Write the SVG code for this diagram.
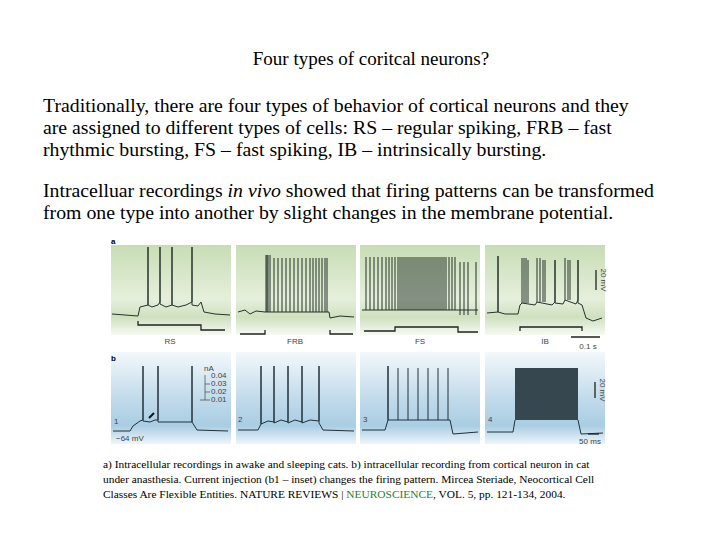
<svg xmlns="http://www.w3.org/2000/svg" width="720" height="540" viewBox="0 0 720 540">
<defs>
<linearGradient id="gA" x1="0" y1="0" x2="0" y2="1"><stop offset="0" stop-color="#c7ddb5"/><stop offset="0.6" stop-color="#e6efdc"/><stop offset="0.8" stop-color="#cfe0bf"/><stop offset="1" stop-color="#f7faf3"/></linearGradient>
<linearGradient id="gB" x1="0" y1="0" x2="0" y2="1"><stop offset="0" stop-color="#f3f8fb"/><stop offset="0.5" stop-color="#c2dbeb"/><stop offset="0.8" stop-color="#a9cde3"/><stop offset="1" stop-color="#eef5fa"/></linearGradient>
<style>
.t{font-family:"Liberation Serif",serif;fill:#000}
.tr{stroke:#25332b;stroke-width:1;fill:none}
.trb{stroke:#22303a;stroke-width:1;fill:none}
.st{stroke:#222;stroke-width:1.3;fill:none}
.sm{font-family:"Liberation Sans",sans-serif;font-size:8px;fill:#444}
</style>
</defs>
<rect width="720" height="540" fill="#fff"/>
<text class="t" x="371" y="65" font-size="19" text-anchor="middle">Four types of coritcal neurons?</text>
<g class="t" font-size="19.8">
<text x="43" y="112">Traditionally, there are four types of behavior of cortical neurons and they</text>
<text x="43" y="134">are assigned to different types of cells: RS – regular spiking, FRB – fast</text>
<text x="43" y="156">rhythmic bursting, FS – fast spiking, IB – intrinsically bursting.</text>
<text x="43" y="197">Intracelluar recordings <tspan font-style="italic">in vivo</tspan> showed that firing patterns can be transformed</text>
<text x="43" y="219">from one type into another by slight changes in the membrane potential.</text>
</g>
<g id="figure">
<rect x="111" y="245" width="120" height="90" fill="url(#gA)"/>
<rect x="236" y="245" width="120" height="90" fill="url(#gA)"/>
<rect x="360" y="245" width="120" height="90" fill="url(#gA)"/>
<rect x="485" y="245" width="120" height="90" fill="url(#gA)"/>
<rect x="111" y="352" width="120" height="92" fill="url(#gB)"/>
<rect x="236" y="352" width="120" height="92" fill="url(#gB)"/>
<rect x="360" y="352" width="120" height="92" fill="url(#gB)"/>
<rect x="485" y="352" width="120" height="92" fill="url(#gB)"/>
<text x="111" y="244" font-family="Liberation Sans" font-size="8" font-weight="bold">a</text>
<text x="111" y="361" font-family="Liberation Sans" font-size="8" font-weight="bold">b</text>
<path class="tr" d="M112 314 L125 315 L138 316 L140 307 L148 305 V247 V305 L152 307 L158 305 L160 302 V247 V304 L166 307 L172 305 V247 V305 L178 307 L186 305 L192 302 V247 V305 L198 306 L201 302 L204 312 L215 314 L230 315"/>
<path class="st" d="M138 321 V325 H201 V330 H225"/>
<text class="sm" x="170" y="344" text-anchor="middle">RS</text>
<path class="tr" d="M238 312 L245 310 L250 314 L256 311 L265 312 M266 312 V255 M267 312 V255 M268 312 V255 M270 312 V255 M274 312 V258 M278 312 V258 M282 312 V258 M286 312 V258 M290 312 V258 M294 312 V258 M298 312 V258 M302 312 V258 M306 312 V258 M310 312 V258 M313 312 V258 M316 312 V258 M319 312 V258 M322 312 V258 M325 312 V258 M327 312 V258 M265 312 H329 L330 318 L340 316 L354 317"/>
<path class="st" d="M240 334 H265 V330 M330 330 V334 H353"/>
<text class="sm" x="295" y="344" text-anchor="middle">FRB</text>
<path class="tr" d="M362 310 H478 M366 310 V257 M370 310 V257 M374 310 V257 M378 310 V257 M382 310 V257 M386 310 V257 M389 310 V257 M392 310 V257 M395 310 V257 M398 310 V257 M400 310 V257 M402 310 V257 M404 310 V257 M406 310 V257 M408 310 V257 M410 310 V257 M412 310 V257 M414 310 V257 M416 310 V257 M418 310 V257 M420 310 V257 M422 310 V257 M424 310 V257 M426 310 V257 M428 310 V257 M430 310 V257 M432 310 V257 M434 310 V257 M436 310 V257 M438 310 V257 M440 310 V257 M442 310 V257 M444 310 V257 M446 310 V257 M449 310 V257 M452 310 V257 M455 310 V257 M460 315 V262 M464 315 V262 M468 315 V262 M476 315 V262"/>
<path class="st" d="M364 331 H395 V327 H458 V332 H478"/>
<text class="sm" x="420" y="344" text-anchor="middle">FS</text>
<path class="tr" d="M487 313 L498 312 V256 V312 L505 314 L518 314 L520 305 L522 303 V258 M524 303 V258 M526 303 V258 M528 303 V260 M522 303 L535 305 L537 302 V258 M540 302 V258 M543 302 V260 M545 302 V260 M537 302 L552 305 L555 302 V260 V303 L563 304 L565 300 V258 M568 300 V260 M570 300 V260 M565 300 L576 304 L578 300 V260 V303 L582 305 L586 318 L593 321 L602 318"/>
<path class="st" d="M520 331 V327 H582 V331 M571 337 H600"/>
<path class="st" d="M596 270 V290"/>
<text class="sm" x="545" y="344" text-anchor="middle">IB</text>
<text class="sm" x="588" y="349" text-anchor="middle">0.1 s</text>
<text class="sm" transform="translate(601 280) rotate(90)" text-anchor="middle">20 mV</text>
<path class="trb" d="M113 431 H130 L133 426 L140 421 L143 420 V366 V421 L150 422 L155 420 L158 420 V366 V422 L192 422 V366 V422 L197 430 L228 431"/>
<path stroke="#111" stroke-width="2" d="M149 418 L154 413"/>
<path stroke="#555" stroke-width="0.8" fill="none" d="M200 400 H205 M205 375 V400 M205 384 H210 M205 392 H210 M205 400 H210"/>
<text class="sm" x="204" y="371" font-size="8">nA</text>
<text class="sm" x="211" y="378" font-size="4">0.04</text>
<text class="sm" x="211" y="386" font-size="4">0.03</text>
<text class="sm" x="211" y="394" font-size="4">0.02</text>
<text class="sm" x="211" y="402" font-size="4">0.01</text>
<text class="sm" x="114" y="424" font-size="9">1</text>
<text class="sm" x="116" y="441" font-size="9">−64 mV</text>
<path class="trb" d="M238 430 H258 L261 424 V366 V424 L268 421 L274 422 V366 V423 L281 420 L288 422 V366 V423 L295 420 L302 422 V366 V423 L310 420 L319 421 V366 V423 L323 430 L354 431"/>
<text class="sm" x="238" y="422" font-size="9">2</text>
<path class="trb" d="M362 430 H385 L388 420 V366 V420 M398 420 V368 M408 420 V368 M418 420 V368 M428 420 V368 M438 420 V368 M448 420 V368 M388 420 H450 L453 434 L478 432"/>
<text class="sm" x="363" y="422" font-size="9">3</text>
<rect x="515" y="368" width="63" height="52" fill="#37474f"/>
<path class="trb" d="M487 432 H513 L515 420 M578 420 L581 434 L603 433"/>
<path class="st" d="M588 434 H599"/>
<path class="st" d="M595 382 V398"/>
<text class="sm" x="488" y="422" font-size="9">4</text>
<text class="sm" x="590" y="444" font-size="6" text-anchor="middle">50 ms</text>
<text class="sm" transform="translate(600 390) rotate(90)" text-anchor="middle" font-size="6">20 mV</text>
</g>
<g class="t" font-size="11.4">
<text x="103" y="468">a) Intracellular recordings in awake and sleeping cats. b) intracellular recording from cortical neuron in cat</text>
<text x="103" y="483">under anasthesia. Current injection (b1 – inset) changes the firing pattern. Mircea Steriade, Neocortical Cell</text>
<text x="103" y="498">Classes Are Flexible Entities. NATURE REVIEWS | <tspan fill="#2e7d32">NEUROSCIENCE</tspan>, VOL. 5, pp. 121-134, 2004.</text>
</g>
</svg>
